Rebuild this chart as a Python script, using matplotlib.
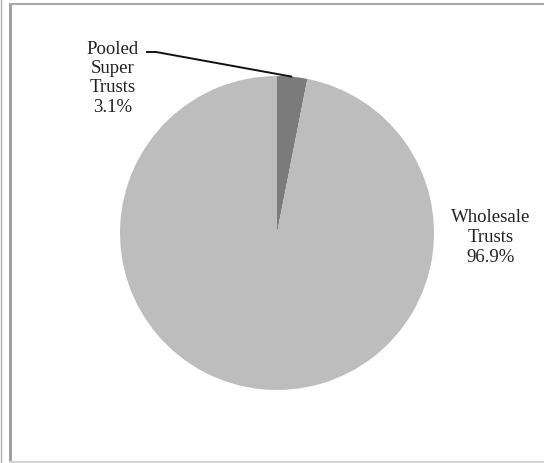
import matplotlib.pyplot as plt
import numpy as np
from matplotlib.lines import Line2D

# fund types and their share of assets (%)
categories = ["Pooled\nSuper\nTrusts", "Wholesale\nTrusts"]
shares = [3.1, 96.9]
colors = ["#7b7b7b", "#bdbdbd"]

plt.rcParams['font.family'] = ['Liberation Serif', 'DejaVu Serif']

W, H = 544, 463
R = 157.0
cx, cy = 277.0, 230.0  # pie centre in pixels from bottom-left

fig = plt.figure(figsize=(W / 100, H / 100), dpi=100)
ax = fig.add_axes([0, 0, 1, 1])
ax.pie(shares, colors=colors, startangle=90, counterclock=False,
       wedgeprops=dict(linewidth=0))
ax.set_xlim(-cx / R, (W - cx) / R)
ax.set_ylim(-cy / R, (H - cy) / R)
ax.set_aspect('equal')
ax.axis('off')

labels = [f"{c}\n{s:.1f}%" for c, s in zip(categories, shares)]

# small slice label with leader line
ax.text(-1.045, 0.985, labels[0], ha='center', va='center', fontsize=13.5,
        multialignment='center', linespacing=1.17, color="#222222")
mid = np.deg2rad(90 - shares[0] / 100 * 360 / 2)
ax.plot([-0.834, -0.771, np.cos(mid)], [1.153, 1.153, np.sin(mid)],
        color="#111111", lw=1.4, solid_capstyle='butt')

# large slice label
ax.text(1.36, -0.03, labels[1], ha='center', va='center', fontsize=13.5,
        multialignment='center', linespacing=1.22, color="#222222")

# panel frame
fig.add_artist(Line2D([9.5 / W, 9.5 / W], [1 / H, 1 - 3.5 / H], color="#9a9a9a", lw=2))
fig.add_artist(Line2D([9.5 / W, 1], [1 - 3.5 / H, 1 - 3.5 / H], color="#a8a8a8", lw=1.5))
fig.add_artist(Line2D([9.5 / W, 1], [1 / H, 1 / H], color="#d4d4d4", lw=1.5))
fig.add_artist(Line2D([0.7 / W, 0.7 / W], [0, 1], color="#b0b0b0", lw=1))

fig.savefig("out.png", dpi=100)
